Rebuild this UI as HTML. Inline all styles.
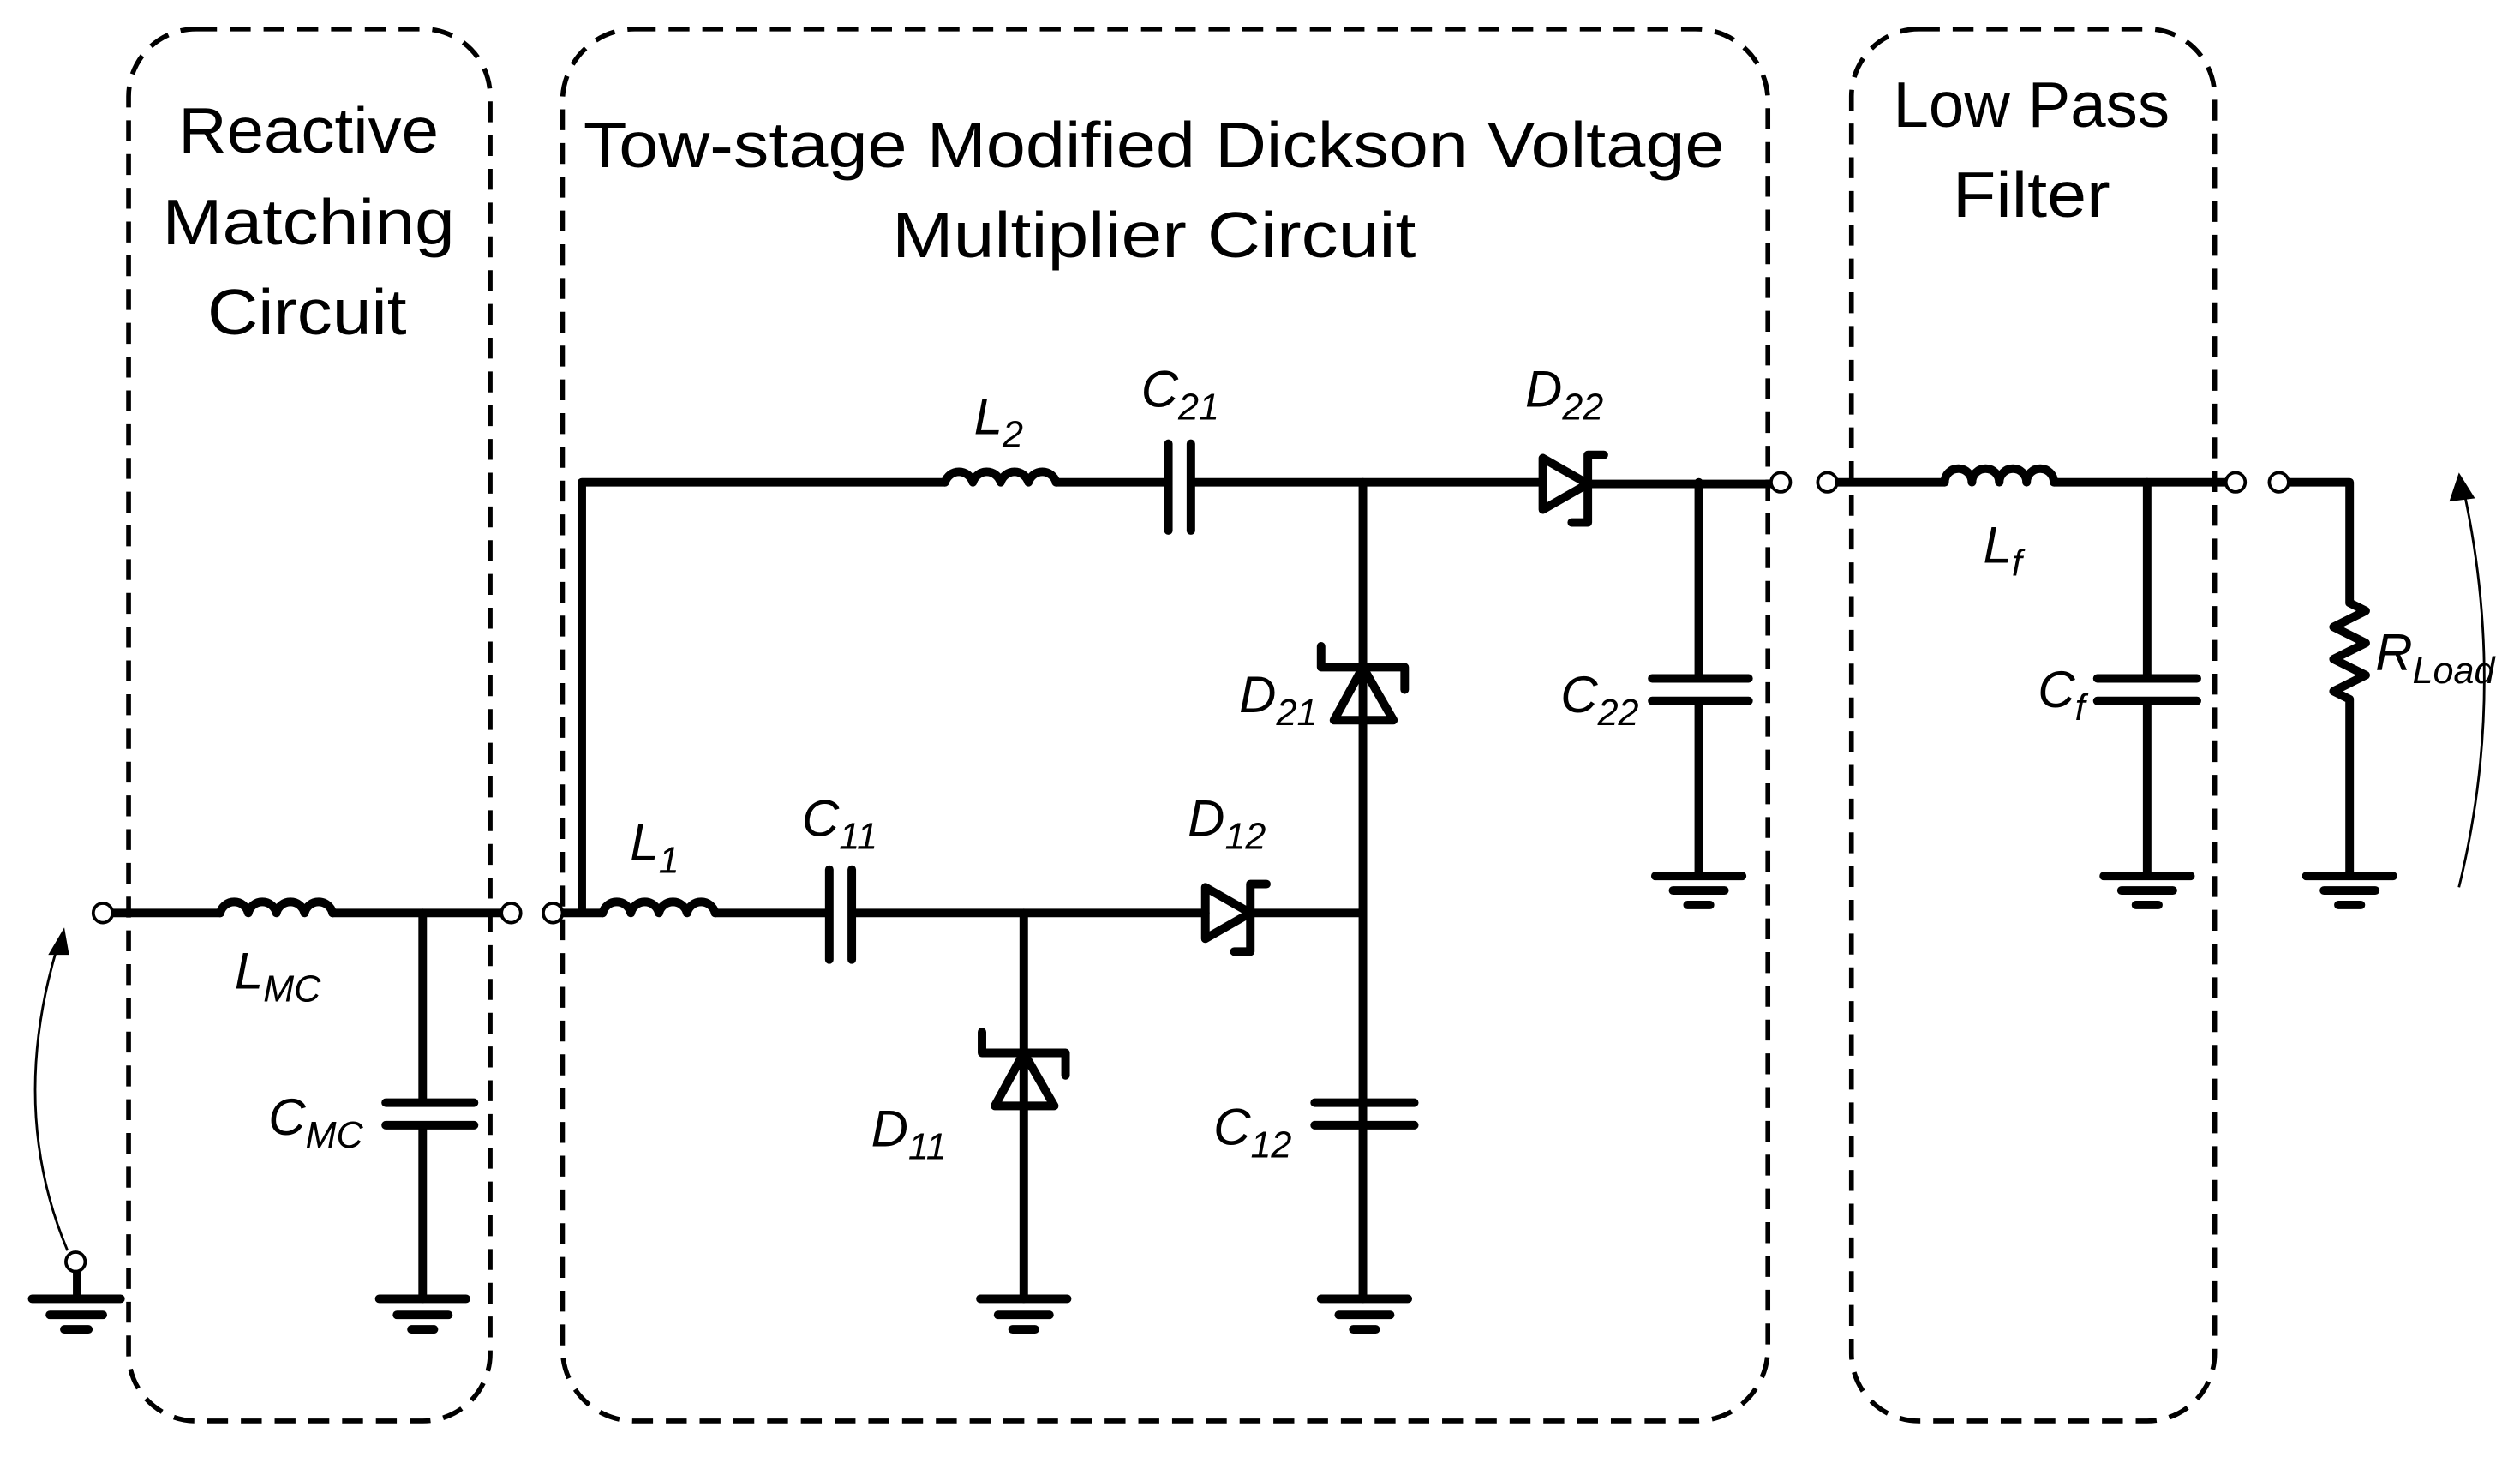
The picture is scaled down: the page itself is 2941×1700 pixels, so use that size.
<!DOCTYPE html>
<html><head><meta charset="utf-8"><style>
html,body{margin:0;padding:0;background:#fff}
svg{display:block}
text{font-family:"Liberation Sans",sans-serif;fill:#000}
.t{font-size:40px}
.l{font-size:32px;font-style:italic}
.s{font-size:23px;font-style:italic}
</style></head><body>
<svg width="2941" height="1700" viewBox="0 0 1568 906.4" preserveAspectRatio="none" xmlns="http://www.w3.org/2000/svg">
<g fill="none" stroke="#000" stroke-width="3" stroke-dasharray="13,8">
<rect x="80" y="18" width="225" height="866" rx="42"/>
<rect x="350" y="18" width="750" height="866" rx="45"/>
<rect x="1152" y="18" width="226" height="866" rx="42"/>
</g>
<text class="t" x="111" y="95" textLength="162" lengthAdjust="spacingAndGlyphs">Reactive</text>
<text class="t" x="101" y="152" textLength="182" lengthAdjust="spacingAndGlyphs">Matching</text>
<text class="t" x="129" y="208" textLength="124" lengthAdjust="spacingAndGlyphs">Circuit</text>
<text class="t" x="363" y="104" textLength="710" lengthAdjust="spacingAndGlyphs">Tow-stage Modified Dickson Voltage</text>
<text class="t" x="555" y="160" textLength="326" lengthAdjust="spacingAndGlyphs">Multiplier Circuit</text>
<text class="t" x="1178" y="79" textLength="172" lengthAdjust="spacingAndGlyphs">Low Pass</text>
<text class="t" x="1215" y="135" textLength="98" lengthAdjust="spacingAndGlyphs">Filter</text>

<g fill="none" stroke="#000" stroke-width="5.3" stroke-linecap="round" stroke-linejoin="round">
<path d="M70 568 H137 M207 568 H312"/>
<path d="M137 568 a9 9 0 0 1 17.5 0 a9 9 0 0 1 17.5 0 a9 9 0 0 1 17.5 0 a9 9 0 0 1 17.5 0"/>
<path d="M263 568 V686 M240 686 H295 M240 700 H295 M263 700 V808"/>
<path d="M236 808 H290 M247 818 H279 M256 827 H270"/>
<path d="M48 791 V808 M20 808 H75 M31 818 H64 M40 827 H55"/>
<path d="M350 568 H375 M362 568 V300 H588"/>
<path d="M588 300 a9 9 0 0 1 17.3 0 a9 9 0 0 1 17.3 0 a9 9 0 0 1 17.3 0 a9 9 0 0 1 17.3 0"/>
<path d="M657 300 H727 M727 276 V330 M741 276 V330 M741 300 H960"/>
<path d="M960 285 V317 L988 301 Z M988 301 H1102 M988 283 V325 M988 283 H998 M988 325 H978"/>
<path d="M1057 300 V422 M1028 422 H1088 M1028 436 H1088 M1057 436 V545 M1030 545 H1084 M1041 554 H1073 M1050 563 H1064"/>
<path d="M848 300 V808 M822 402 V415 H874 V429 M848 415 L830 448 H867 Z"/>
<path d="M818 686 H880 M818 700 H880 M822 808 H876 M833 818 H865 M842 827 H856"/>
<path d="M375 568 a9 9 0 0 1 17.5 0 a9 9 0 0 1 17.5 0 a9 9 0 0 1 17.5 0 a9 9 0 0 1 17.5 0"/>
<path d="M445 568 H516 M516 541 V597 M530 541 V597 M530 568 H750"/>
<path d="M750 552 V584 L778 568 Z M778 568 H848 M778 550 V592 M778 550 H788 M778 592 H768"/>
<path d="M637 568 V808 M611 642 V655 H663 V669 M637 655 L619 688 H656 Z"/>
<path d="M610 808 H664 M621 818 H653 M630 827 H644"/>
<path d="M1143 300 H1210 M1278 300 H1386"/>
<path d="M1210 300 a8.5 8.5 0 0 1 17 0 a8.5 8.5 0 0 1 17 0 a8.5 8.5 0 0 1 17 0 a8.5 8.5 0 0 1 17 0"/>
<path d="M1336 300 V422 M1305 422 H1367 M1305 436 H1367 M1336 436 V545 M1309 545 H1363 M1320 554 H1352 M1329 563 H1343"/>
<path d="M1425 300 H1462 V375 L1472 380 L1452 390 L1472 400 L1452 410 L1472 420 L1452 430 L1462 435 V545 M1435 545 H1489 M1446 554 H1478 M1455 563 H1469"/>
</g>
<g fill="#fff" stroke="#000" stroke-width="2">
<circle cx="64" cy="568" r="6"/><circle cx="318" cy="568" r="6"/><circle cx="344" cy="568" r="6"/>
<circle cx="47" cy="785" r="6"/>
<circle cx="1108" cy="300" r="6"/><circle cx="1137" cy="300" r="6"/>
<circle cx="1391" cy="300" r="6"/><circle cx="1418" cy="300" r="6"/>
</g>
<g fill="none" stroke="#000" stroke-width="1.5">
<path d="M42 778 Q5 690 36 588"/>
<path d="M1530 552 Q1560 430 1533 305"/>
</g>
<path d="M40 577 L30 594 L43 594 Z" fill="#000"/>
<path d="M1530 294 L1524 312 L1540 310 Z" fill="#000"/>

<text class="l" x="146" y="615">L<tspan class="s" dy="8">MC</tspan></text>
<text class="l" x="167" y="706">C<tspan class="s" dy="8">MC</tspan></text>
<text class="l" x="606" y="270">L<tspan class="s" dy="8">2</tspan></text>
<text class="l" x="710" y="253">C<tspan class="s" dy="8">21</tspan></text>
<text class="l" x="949" y="253">D<tspan class="s" dy="8">22</tspan></text>
<text class="l" x="771" y="443">D<tspan class="s" dy="8">21</tspan></text>
<text class="l" x="971" y="443">C<tspan class="s" dy="8">22</tspan></text>
<text class="l" x="392" y="535">L<tspan class="s" dy="8">1</tspan></text>
<text class="l" x="499" y="520">C<tspan class="s" dy="8">11</tspan></text>
<text class="l" x="739" y="520">D<tspan class="s" dy="8">12</tspan></text>
<text class="l" x="542" y="713">D<tspan class="s" dy="8">11</tspan></text>
<text class="l" x="755" y="712">C<tspan class="s" dy="8">12</tspan></text>
<text class="l" x="1234" y="350">L<tspan class="s" dy="8">f</tspan></text>
<text class="l" x="1268" y="440">C<tspan class="s" dy="8">f</tspan></text>
<text class="l" x="1478" y="417">R<tspan class="s" dy="8">Load</tspan></text>
</svg>
</body></html>
